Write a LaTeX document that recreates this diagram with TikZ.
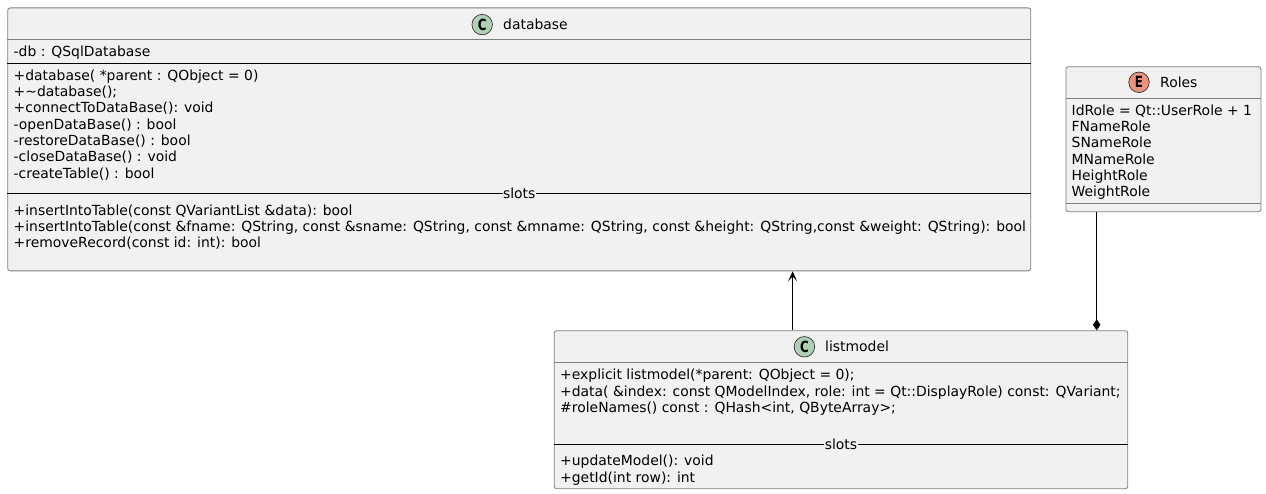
\documentclass[tikz,border=0pt]{standalone}
\usepackage{fontspec}
\setmainfont{DejaVu Sans}
\usepackage{graphicx}
\usepackage{tikz}
\usetikzlibrary{arrows.meta}

\definecolor{boxfill}{HTML}{F1F1F1}
\definecolor{boxline}{HTML}{7F7F7F}
\definecolor{classicon}{HTML}{ADD1B2}
\definecolor{enumicon}{HTML}{EB937F}

\newcommand{\iconletter}[1]{\scalebox{0.85}[1.1]{#1}}

\begin{document}
\begin{tikzpicture}[
  x=1pt, y=-1pt,
  every node/.style={font=\fontsize{13.92}{16.3}\selectfont, inner sep=0pt},
  umlbox/.style={rectangle, draw=boxline, fill=boxfill, line width=0.8pt, rounded corners=2.5pt, anchor=north west},
  icon/.style={circle, draw=black!80, line width=0.7pt, minimum size=20.5pt, font=\fontsize{14}{16.3}\bfseries},
  members/.style={anchor=north west, align=left},
  headline/.style={draw=boxline, line width=0.8pt},
  sepline/.style={draw=black, line width=0.7pt},
  slotlabel/.style={fill=boxfill, inner xsep=0.5pt, inner ysep=1pt}
]
\useasboundingbox (0,0) rectangle (1266,494);

% boxes
\node[umlbox, minimum width=1023pt, minimum height=263pt] (database) at (7.3,7.5) {};
\node[umlbox, minimum width=195pt, minimum height=145pt] (roles) at (1065.5,66.3) {};
\node[umlbox, minimum width=573.6pt, minimum height=158pt] (listmodel) at (553.8,330.3) {};

% database
\node[icon, fill=classicon] (dbicon) at (482.2,24.6) {\iconletter{C}};
\node[anchor=west] (dbname) at (503,24) {database};
\draw[headline] ([yshift=-32pt]database.north west) -- ([yshift=-32pt]database.north east);
\node[members] (dbfields) at (13.5,45.3) {-db : QSqlDatabase};
\draw[sepline] ([yshift=-55.5pt]database.north west) -- ([yshift=-55.5pt]database.north east);
\node[members] (dbmethods) at (13.5,69.5) {+database( *parent : QObject = 0)\\
  +\textasciitilde database();\\
  +connectToDataBase(): void\\
  -openDataBase() : bool\\
  -restoreDataBase() : bool\\
  -closeDataBase() : void\\
  -createTable() : bool};
\draw[sepline] ([yshift=-186pt]database.north west) -- node[slotlabel] (dbslots) {slots} ([yshift=-186pt]database.north east);
\node[members] (dbslotlist) at (13.5,204.5) {+insertIntoTable(const QVariantList \&data): bool\\
  +insertIntoTable(const \&fname: QString, const \&sname: QString, const \&mname: QString, const \&height: QString,const \&weight: QString): bool\\
  +removeRecord(const id: int): bool};

% roles
\node[icon, fill=enumicon] (rolesicon) at (1139,82.3) {\iconletter{E}};
\node[anchor=west] (rolesname) at (1160,82) {Roles};
\draw[headline] ([yshift=-32pt]roles.north west) -- ([yshift=-32pt]roles.north east);
\node[members] (rolelist) at (1071.5,104.5) {IdRole = Qt::UserRole + 1\\
  FNameRole\\
  SNameRole\\
  MNameRole\\
  HeightRole\\
  WeightRole};
\draw[headline] ([yshift=-137pt]roles.north west) -- ([yshift=-137pt]roles.north east);

% listmodel
\node[icon, fill=classicon] (lmicon) at (804.4,346.8) {\iconletter{C}};
\node[anchor=west] (lmname) at (825,346.5) {listmodel};
\draw[headline] ([yshift=-32.4pt]listmodel.north west) -- ([yshift=-32.4pt]listmodel.north east);
\node[members] (lmmethods) at (560,369) {+explicit listmodel(*parent: QObject = 0);\\
  +data( \&index: const QModelIndex, role: int = Qt::DisplayRole) const: QVariant;\\
  \#roleNames() const : QHash<int, QByteArray>;};
\draw[sepline] ([yshift=-114pt]listmodel.north west) -- node[slotlabel] (lmslots) {slots} ([yshift=-114pt]listmodel.north east);
\node[members] (lmslotlist) at (560,455) {+updateModel(): void\\
  +getId(int row): int};

% connectors
\coordinate (usesx) at (792.6,300);
\coordinate (partx) at (1096.7,300);
\draw[-{Stealth[length=10pt, width=9pt, inset=5pt]}, line width=0.8pt] (usesx |- listmodel.north) -- (usesx |- database.south);
\draw[-{Diamond[length=11pt, width=7.5pt]}, line width=0.8pt] (partx |- roles.south) -- (partx |- listmodel.north);
\end{tikzpicture}
\end{document}
